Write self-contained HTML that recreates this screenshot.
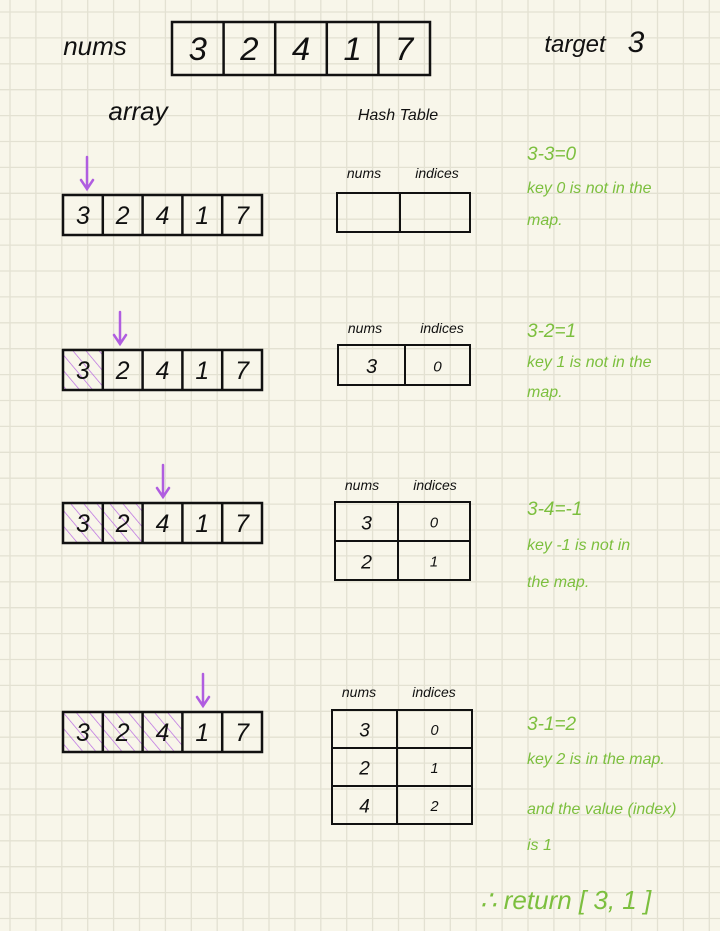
<!DOCTYPE html>
<html><head><meta charset="utf-8"><style>
html,body{margin:0;padding:0;background:#f8f6ea}
svg{display:block}
.hw{font-family:"Liberation Sans",sans-serif;font-style:italic}
.g{fill:#7cbf3e;font-family:"Liberation Sans",sans-serif;font-style:italic}
</style></head><body>
<svg id="s" width="720" height="931" viewBox="0 0 720 931">
<rect width="720" height="931" fill="#f8f6ea"/>
<g id="grid" stroke="#e3e1d2" stroke-width="1.3"></g>
<g id="draw"></g>
</svg>
<script>
const nums=[3,2,4,1,7];
const target=3;
const rows=[
 {ax:63,ay:195,arrow:87,tx:337,ty:193,tw:133,div:400,rh:39,entries:[],empty:true,hy:178,notes:["3-3=0","key 0 is not in the","map."],ny:[160,193,225]},
 {ax:63,ay:350,arrow:120,tx:338,ty:345,tw:132,div:405,rh:40,entries:[[3,0]],hy:333,notes:["3-2=1","key 1 is not in the","map."],ny:[337,367,397]},
 {ax:63,ay:503,arrow:163,tx:335,ty:502,tw:135,div:398,rh:39,entries:[[3,0],[2,1]],hy:490,notes:["3-4=-1","key -1 is not in","the map."],ny:[515,550,587]},
 {ax:63,ay:712,arrow:203,tx:332,ty:710,tw:140,div:397,rh:38,entries:[[3,0],[2,1],[4,2]],hy:697,notes:["3-1=2","key 2 is in the map.","and the value (index)","is 1"],ny:[730,764,814,850]}
];
const NS="http://www.w3.org/2000/svg";
function mk(p,t,a){const e=document.createElementNS(NS,t);for(const k in a)e.setAttribute(k,a[k]);p.appendChild(e);return e;}
const grid=document.getElementById('grid');
for(let x=10;x<720;x+=25.9){mk(grid,'line',{x1:x,y1:0,x2:x,y2:931});}
for(let y=12;y<931;y+=25.9){mk(grid,'line',{x1:0,y1:y,x2:720,y2:y});}
const d=document.getElementById('draw');
function txt(x,y,s,size,cls,fill,name){const t=mk(d,'text',{x:x,y:y,'font-size':size,class:cls,fill:fill||'#111','text-anchor':'middle'});t.textContent=s;


return t;}
const defs=mk(d,'defs',{});
const pat=mk(defs,'pattern',{id:'hatch',width:10,height:10,patternUnits:'userSpaceOnUse',patternTransform:'rotate(-40)'});
mk(pat,'line',{x1:0,y1:0,x2:0,y2:10,stroke:'#b868e0','stroke-width':1.4});
txt(95,55,"nums",26,'hw','#111','nums-label');
function arr(x,y,w,h,hl,name){
 const cw=w/nums.length;
 nums.forEach((v,i)=>{
  if(i<hl){const r=mk(d,'rect',{x:x+i*cw,y:y,width:cw,height:h,fill:'url(#hatch)'});
   
   }
  txt(x+i*cw+cw/2,y+h*0.72,String(v),h*0.62,'hw','#111','array-value');
 });
 const r=mk(d,'rect',{x:x,y:y,width:w,height:h,fill:'none',stroke:'#111','stroke-width':2.5});
 
 
 for(let i=1;i<nums.length;i++)mk(d,'line',{x1:x+i*cw,y1:y,x2:x+i*cw,y2:y+h,stroke:'#111','stroke-width':2.5});
}
arr(172,22,258,53,0,'nums-array');
txt(575,52,"target",24,'hw','#111','target-label');
txt(636,52,String(target),30,'hw','#111','target-value');
txt(138,120,"array",26,'hw','#111','array-title');
txt(398,120,"Hash Table",16,'hw','#111','hash-table-title');
rows.forEach((r,ri)=>{
 const a=mk(d,'path',{d:`M${r.arrow} ${r.ay-38} L${r.arrow} ${r.ay-6} M${r.arrow-6} ${r.ay-15} L${r.arrow} ${r.ay-6} L${r.arrow+6} ${r.ay-15}`,stroke:'#b05de0','stroke-width':2.5,fill:'none','stroke-linecap':'round'});
 
 
 arr(r.ax,r.ay,199,40,ri,'step-array');
 txt(r.tx+27,r.hy,"nums",14,'hw','#111','table-header-nums');
 txt(r.tx+(r.div-r.tx)+37,r.hy,"indices",14,'hw','#111','table-header-indices');
 const n=Math.max(1,r.entries.length);
 const h=r.rh*n;
 const b=mk(d,'rect',{x:r.tx,y:r.ty,width:r.tw,height:h,fill:'none',stroke:'#111','stroke-width':2});
 
 
 mk(d,'line',{x1:r.div,y1:r.ty,x2:r.div,y2:r.ty+h,stroke:'#111','stroke-width':2});
 for(let i=1;i<n;i++)mk(d,'line',{x1:r.tx,y1:r.ty+i*r.rh,x2:r.tx+r.tw,y2:r.ty+i*r.rh,stroke:'#111','stroke-width':2});
 r.entries.forEach((e,i)=>{
  txt((r.tx+r.div)/2,r.ty+i*r.rh+r.rh*0.7,String(e[0]),r.rh*0.5,'hw','#111','table-key');
  txt((r.div+r.tx+r.tw)/2,r.ty+i*r.rh+r.rh*0.66,String(e[1]),r.rh*0.38,'hw','#111','table-index');
 });
 r.notes.forEach((s,i)=>{const tt=txt(527,r.ny[i],s,i==0?19:16,'g','#7cbf3e','note');tt.setAttribute('text-anchor','start');});
});
const rt=txt(480,909,"∴ return [ 3, 1 ]",26,'g','#7cbf3e','return-result');rt.setAttribute('text-anchor','start');
</script>
</body></html>
